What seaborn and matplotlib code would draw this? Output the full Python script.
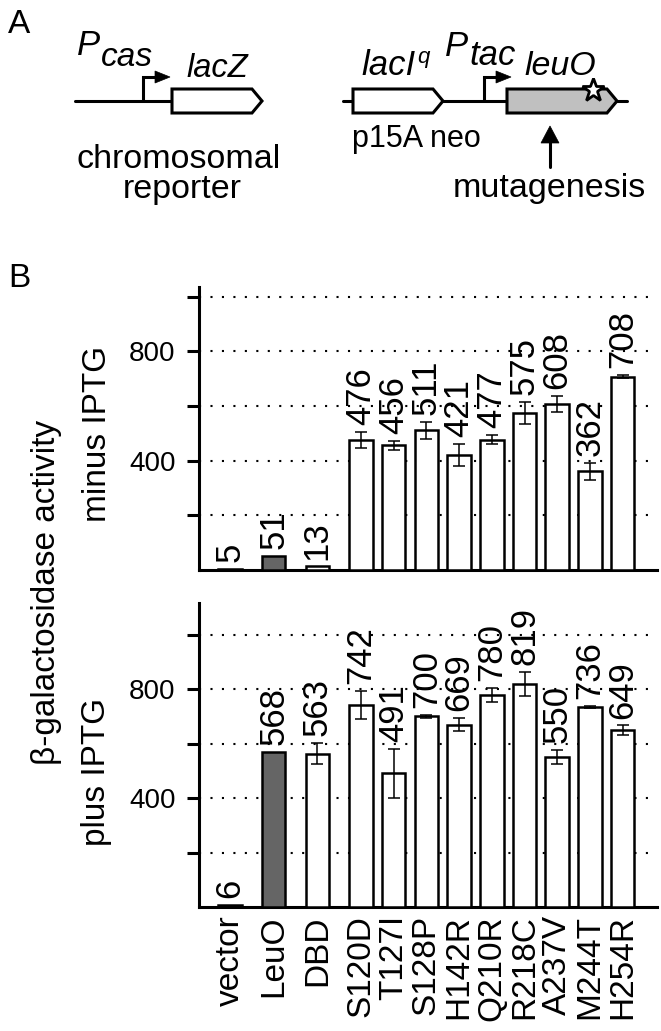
# Activité beta-galactosidase des mutants LeuO (panneau A : schéma, panneau B : barres)
import numpy as np
import pandas as pd
import matplotlib.pyplot as plt
import seaborn as sns
from matplotlib.patches import Polygon

sns.set_style("ticks")
plt.rcParams["font.family"] = ["Liberation Sans", "DejaVu Sans"]
plt.rcParams.update({"text.color": "black", "axes.edgecolor": "black",
                     "xtick.color": "black", "ytick.color": "black",
                     "axes.labelcolor": "black"})

# --- données ---
souches = ["vector", "LeuO", "DBD", "S120D", "T127I", "S128P", "H142R",
           "Q210R", "R218C", "A237V", "M244T", "H254R"]
positions = [0, 4 / 3, 8 / 3, 4, 5, 6, 7, 8, 9, 10, 11, 12]
moins_iptg = [5, 51, 13, 476, 456, 511, 421, 477, 575, 608, 362, 708]
moins_err = [0, 0, 0, 28, 16, 30, 39, 17, 41, 30, 31, 6]
plus_iptg = [6, 568, 563, 742, 491, 700, 669, 780, 819, 550, 736, 649]
plus_err = [0, 0, 38, 52, 89, 5, 24, 26, 45, 26, 4, 18]

COULEURS = {s: "white" for s in souches}
COULEURS["LeuO"] = "#656565"

W, H = 661, 1031
fig = plt.figure(figsize=(W / 100, H / 100), dpi=100)

# --- panneau A : schéma des constructions (coordonnées en pixels) ---
axa = fig.add_axes([0, 1 - 230 / H, 1, 230 / H])
axa.set_xlim(0, W)
axa.set_ylim(230, 0)
axa.axis("off")
LW = 2.2


def gene(x0, x1, fc="white", y=101, h=12, pointe=10):
    axa.add_patch(Polygon([(x0, y - h), (x1 - pointe, y - h), (x1, y),
                           (x1 - pointe, y + h), (x0, y + h)], closed=True,
                          fc=fc, ec="black", lw=LW, joinstyle="miter", zorder=3))


def promoteur(x, tip, y=101, haut=77):
    axa.plot([x, x, tip - 12], [y, haut, haut], color="black", lw=LW,
             solid_joinstyle="miter", zorder=2)
    axa.add_patch(Polygon([(tip - 15, haut - 6), (tip, haut), (tip - 15, haut + 6)],
                          closed=True, fc="black", ec="black", lw=0.5, zorder=3))


axa.plot([75, 180], [101, 101], color="black", lw=LW, zorder=1)
axa.plot([343, 627], [101, 101], color="black", lw=LW, zorder=1)
promoteur(143, 170)
promoteur(484, 511)
gene(172, 262)
gene(353, 443)
gene(507, 617, fc="#c0c0c0")
axa.plot([593], [90], marker="*", ms=17, mfc="white", mec="black", mew=2, zorder=4)

# flèche mutagenèse
axa.plot([550, 550], [167, 138], color="black", lw=LW)
axa.add_patch(Polygon([(541, 143), (550, 126), (559, 143)], closed=True,
                      fc="black", ec="black", lw=0.5))

it = dict(style="italic", va="baseline", ha="left")
axa.text(8, 33, "A", fontsize=24, va="baseline")
axa.text(77, 55, "P", fontsize=25, **it)
axa.text(101, 66, "cas", fontsize=24, **it)
axa.text(186, 77, "lacZ", fontsize=23.5, **it)
axa.text(361, 75, "lacI", fontsize=25, **it)
axa.text(417, 63, "q", fontsize=16, **it)
axa.text(445, 56, "P", fontsize=25, **it)
axa.text(469, 65, "tac", fontsize=25, **it)
axa.text(524, 75, "leuO", fontsize=24.5, **it)
axa.text(352, 147, "p15A neo", fontsize=22, va="baseline")
axa.text(179, 168, "chromosomal", fontsize=24.5, ha="center", va="baseline")
axa.text(182, 198, "reporter", fontsize=24.5, ha="center", va="baseline")
axa.text(549, 197, "mutagenesis", fontsize=24.5, ha="center", va="baseline")

# --- panneau B : barres ---
ax_haut = fig.add_axes([199 / W, 1 - 570 / H, 458 / W, 283 / H])
ax_bas = fig.add_axes([199 / W, 1 - 907 / H, 458 / W, 304 / H])

for ax, vals, errs, ymax in [(ax_haut, moins_iptg, moins_err, 1036),
                             (ax_bas, plus_iptg, plus_err, 1117)]:
    df = pd.DataFrame({"pos": positions, "souche": souches, "valeur": vals})
    sns.barplot(data=df, x="pos", y="valeur", hue="souche", palette=COULEURS,
                native_scale=True, width=0.72, edgecolor="black", linewidth=1.8,
                errorbar=None, legend=False, ax=ax, zorder=3)
    pos_e = [p for p, e in zip(positions, errs) if e > 0]
    val_e = [v for v, e in zip(vals, errs) if e > 0]
    err_e = [e for e in errs if e > 0]
    ax.errorbar(pos_e, val_e, yerr=err_e, fmt="none", ecolor="black",
                elinewidth=1.1, capsize=4.5, capthick=1.1, zorder=4)
    for p, v, e in zip(positions, vals, errs):
        ax.annotate(str(v), xy=(p, v + e), xytext=(0, 5), textcoords="offset points",
                    rotation=90, ha="center", va="bottom", fontsize=25)

    ax.set_xlim(-0.95, 13.05)
    ax.set_ylim(0, ymax)
    ax.set_yticks([200, 400, 600, 800, 1000])
    ax.set_yticklabels(["", "400", "", "800", ""], fontsize=20)
    ax.tick_params(axis="y", length=9, width=2.2, pad=8)
    ax.yaxis.grid(True, linestyle=(0, (1, 4.5)), linewidth=1.5, color="black")
    ax.set_axisbelow(True)
    ax.set_xlabel("")
    ax.set_ylabel("")
    sns.despine(ax=ax)
    for sp in ["left", "bottom"]:
        ax.spines[sp].set_linewidth(2.2)

ax_haut.set_xticks([])
ax_bas.set_xticks(positions)
ax_bas.set_xticklabels(souches, rotation=90, fontsize=24)
ax_bas.tick_params(axis="x", length=0, pad=6)

fig.text(8 / W, 1 - 287 / H, "B", fontsize=24, va="baseline")
fig.text(47 / W, 1 - 592 / H, "β-galactosidase activity", fontsize=24,
         rotation=90, ha="center", va="center")
fig.text(97 / W, 1 - 434 / H, "minus IPTG", fontsize=24,
         rotation=90, ha="center", va="center")
fig.text(97 / W, 1 - 772 / H, "plus IPTG", fontsize=24,
         rotation=90, ha="center", va="center")

plt.savefig("out.png", dpi=100)
plt.close()
